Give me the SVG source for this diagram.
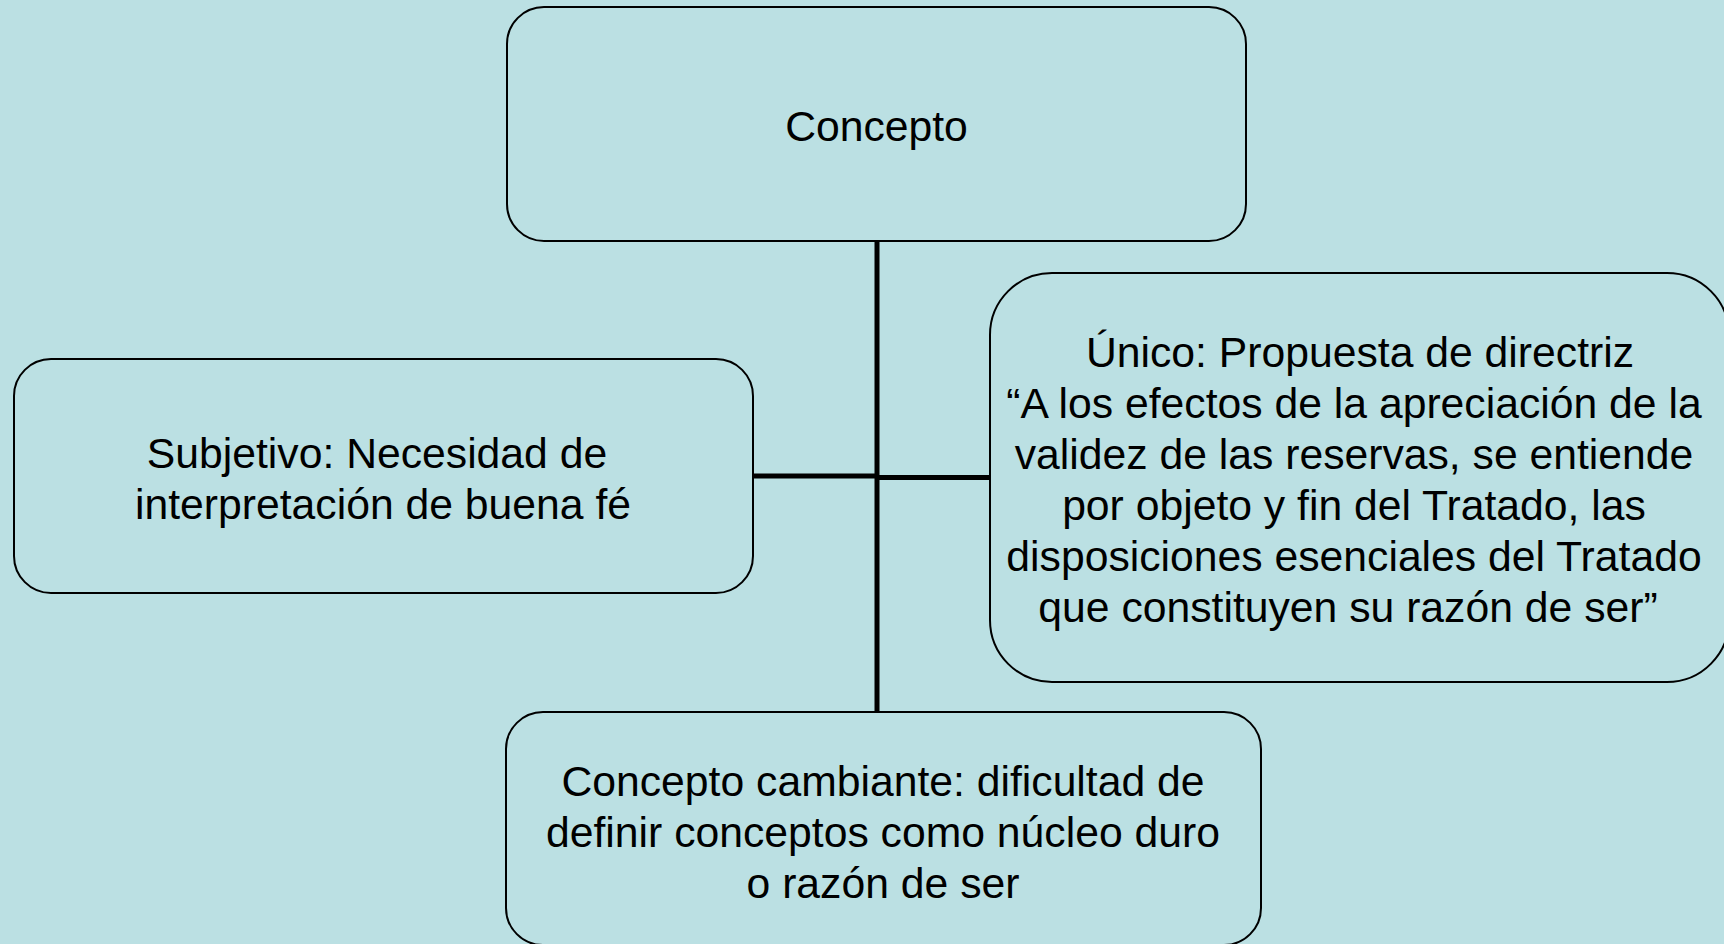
<svg xmlns="http://www.w3.org/2000/svg" width="1724" height="944" viewBox="0 0 1724 944">
<style>
.box{fill:#BBE0E3;stroke:#000;stroke-width:2}
.conn{stroke:#000;stroke-width:5;fill:none}
text{font-family:"Liberation Sans",Arial,sans-serif;font-size:42.7px;fill:#000;text-anchor:middle}
</style>
<rect x="0" y="0" width="1724" height="944" fill="#BBE0E3"/>
<g id="connectors">
<line class="conn" x1="877" y1="241" x2="877" y2="712"/>
<line class="conn" x1="753" y1="476" x2="877" y2="476"/>
<line class="conn" x1="877" y1="477.5" x2="990" y2="477.5"/>
</g>
<g id="node-concepto">
<rect class="box" x="507" y="7" width="739" height="234" rx="37" ry="37"/>
<text x="876.5" y="141">Concepto</text>
</g>
<g id="node-subjetivo">
<rect class="box" x="14" y="359" width="739" height="234" rx="37" ry="37"/>
<text x="377" y="468">Subjetivo: Necesidad de</text>
<text x="383" y="519">interpretación de buena fé</text>
</g>
<g id="node-unico">
<rect class="box" x="990" y="273" width="739" height="409" rx="62" ry="62"/>
<text x="1360" y="367">Único: Propuesta de directriz</text>
<text x="1354" y="418">“A los efectos de la apreciación de la</text>
<text x="1354" y="469">validez de las reservas, se entiende</text>
<text x="1354" y="520">por objeto y fin del Tratado, las</text>
<text x="1354" y="571">disposiciones esenciales del Tratado</text>
<text x="1348" y="622">que constituyen su razón de ser”</text>
</g>
<g id="node-cambiante">
<rect class="box" x="506" y="712" width="755" height="233" rx="37" ry="37"/>
<text x="883" y="796">Concepto cambiante: dificultad de</text>
<text x="883" y="847">definir conceptos como núcleo duro</text>
<text x="883" y="898">o razón de ser</text>
</g>
</svg>
